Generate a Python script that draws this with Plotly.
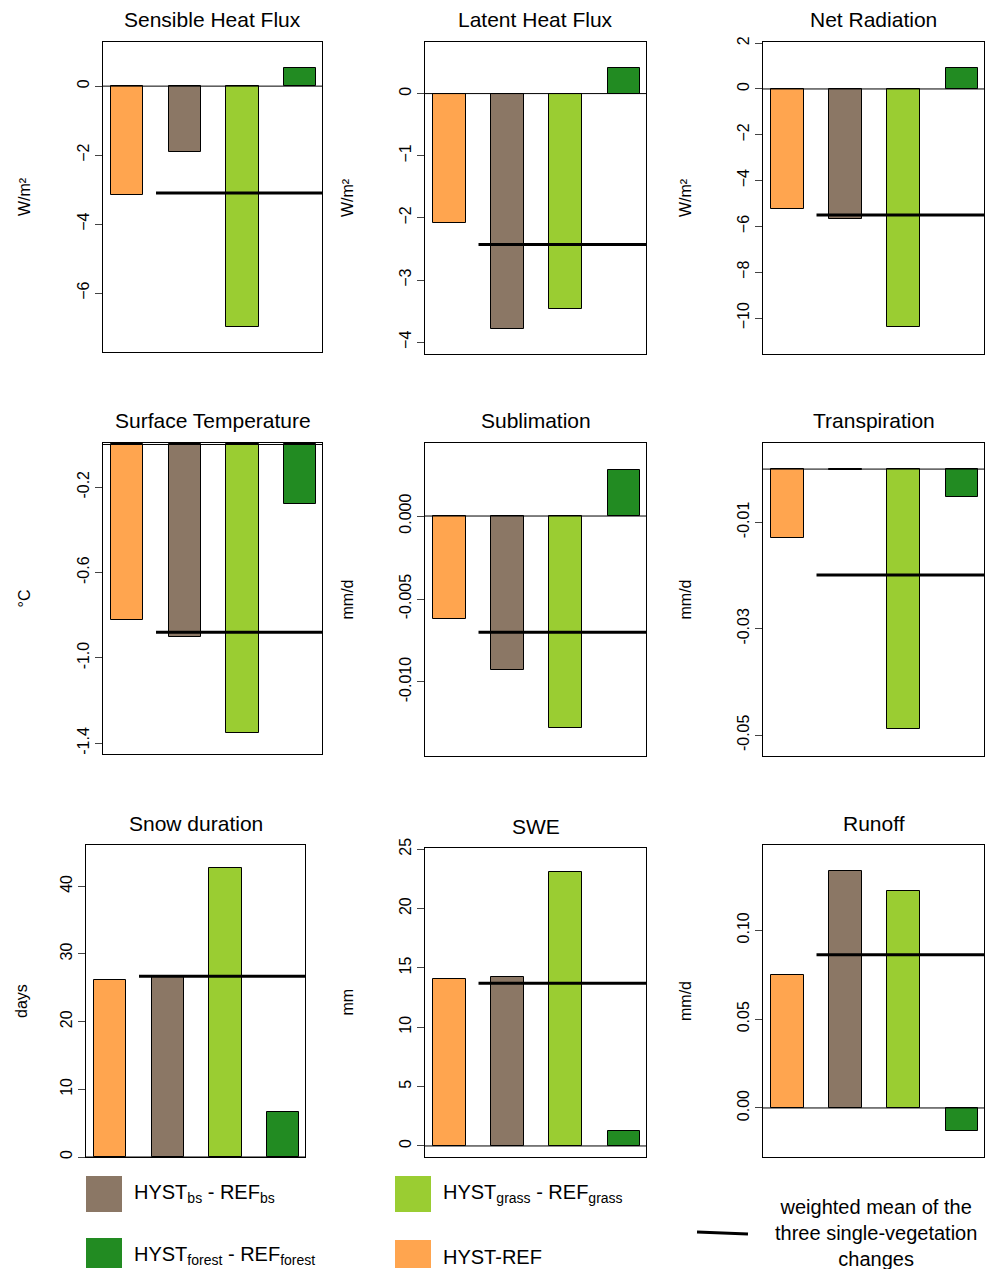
import plotly.graph_objects as go

OFF = 8  # page body margin
W, H = 995 - 2 * OFF, 1277 - 2 * OFF
titles = ["Sensible Heat Flux", "Latent Heat Flux", "Net Radiation",
          "Surface Temperature", "Sublimation", "Transpiration",
          "Snow duration", "SWE", "Runoff"]
units = ["W/m²", "W/m²", "W/m²", "°C", "mm/d", "mm/d", "days", "mm", "mm/d"]
# values: HYST-REF, bs, grass, forest
sensible = [-3.16, -1.91, -6.99, 0.52]
latent = [-2.09, -3.79, -3.47, 0.41]
netrad = [-5.24, -5.68, -10.39, 0.92]
surftemp = [-0.82, -0.90, -1.35, -0.28]
sublim = [-0.0062, -0.0093, -0.0128, 0.0028]
transp = [-0.0130, -0.0002, -0.0488, -0.0053]
snowdur = [26.1, 26.7, 42.7, 6.6]
swe = [14.1, 14.2, 23.1, 1.3]
runoff = [0.075, 0.1336, 0.1223, -0.013]
series = [sensible, latent, netrad, surftemp, sublim, transp, snowdur, swe, runoff]
means = [-3.1, -2.43, -5.5, -0.88, -0.0070, -0.0199, 26.7, 13.7, 0.0862]
ylims = [(-7.71, 1.28), (-4.19, 0.83), (-11.57, 2.05), (-1.45, 0.007),
         (-0.01446, 0.0044), (-0.0539, 0.0049), (0, 46.1), (-0.93, 25.1), (-0.0276, 0.148)]
ticks = [[0, -2, -4, -6], [0, -1, -2, -3, -4], [2, 0, -2, -4, -6, -8, -10],
         [-0.2, -0.6, -1.0, -1.4], [0.0, -0.005, -0.010], [-0.01, -0.03, -0.05],
         [0, 10, 20, 30, 40], [0, 5, 10, 15, 20, 25], [0.0, 0.05, 0.10]]
ticktext = [None, None, None, ["-0.2", "-0.6", "-1.0", "-1.4"],
            ["0.000", "-0.005", "-0.010"], ["-0.01", "-0.03", "-0.05"],
            None, None, ["0.00", "0.05", "0.10"]]
colors = ["#FFA54F", "#8B7765", "#9ACD32", "#228B22"]
# boxes in pixels (x0, x1, y0top, y1bottom)
boxes = [(103, 322, 42, 352), (425, 646, 42, 354), (763, 984, 42, 354),
         (103, 322, 443, 754), (425, 646, 443, 756), (763, 984, 443, 756),
         (86, 305, 845, 1157), (425, 646, 848, 1157), (763, 984, 845, 1157)]
unit_x = [24, 347, 685]


def px(x):
    return (x - OFF) / W


def py(y):
    return 1 - (y - OFF) / H


fig = go.Figure()
font = "Liberation Sans, Arial, sans-serif"
ann = []
for i in range(9):
    k = "" if i == 0 else str(i + 1)
    x0, x1, yt, yb = boxes[i]
    xs = [1, 2, 3, 4]
    fig.add_trace(go.Bar(x=xs, y=series[i], marker=dict(color=colors, line=dict(color="black", width=1)),
                         width=0.56, xaxis="x" + k, yaxis="y" + k, showlegend=False))
    fig.add_trace(go.Scatter(x=[0.5, 4.5], y=[0, 0], mode="lines", line=dict(color="black", width=1),
                             xaxis="x" + k, yaxis="y" + k, showlegend=False))
    fig.add_trace(go.Scatter(x=[1.5, 4.5], y=[means[i]] * 2, mode="lines", line=dict(color="black", width=3),
                             xaxis="x" + k, yaxis="y" + k, showlegend=False))
    fig.update_layout(**{
        "xaxis" + k: dict(domain=[px(x0), px(x1)], range=[0.58, 4.38], showline=True, mirror=True,
                          linecolor="black", showticklabels=False, ticks="", showgrid=False,
                          zeroline=False, anchor="y" + k, automargin=False),
        "yaxis" + k: dict(domain=[py(yb), py(yt)], range=list(ylims[i]), showline=True,
                          mirror=True, linecolor="black", ticks="outside", ticklen=7,
                          tickvals=ticks[i], ticktext=ticktext[i], tickangle=-90,
                          tickfont=dict(size=16, color="black"), showgrid=False,
                          zeroline=False, anchor="x" + k, automargin=False),
    })
    ann.append(dict(x=px((x0 + x1) / 2), y=py(yt - 22), xref="paper", yref="paper",
                    xanchor="center", yanchor="middle",
                    text=titles[i], showarrow=False, font=dict(size=21, color="black")))
    ann.append(dict(x=px(unit_x[i % 3] - (3 if i == 6 else 0)), y=py((yt + yb) / 2), xref="paper",
                    yref="paper", xanchor="center", yanchor="middle",
                    text=units[i], showarrow=False, textangle=-90, font=dict(size=16, color="black")))

shapes = []
legend = [("#8B7765", 86, 1176, "HYST<sub>bs</sub> - REF<sub>bs</sub>"),
          ("#228B22", 86, 1238, "HYST<sub>forest</sub> - REF<sub>forest</sub>"),
          ("#9ACD32", 395, 1176, "HYST<sub>grass</sub> - REF<sub>grass</sub>"),
          ("#FFA54F", 395, 1240, "HYST-REF")]
for c, lx, ly, t in legend:
    shapes.append(dict(type="rect", xref="paper", yref="paper", x0=px(lx), x1=px(lx + 36),
                       y0=py(min(ly + 36, 1268)), y1=py(ly), fillcolor=c, line=dict(width=0)))
    ann.append(dict(x=px(lx + 46), y=py(ly + 17), xref="paper", yref="paper", text=t,
                    xanchor="left", yanchor="middle", showarrow=False, font=dict(size=20, color="black")))
shapes.append(dict(type="line", xref="paper", yref="paper", x0=px(697), x1=px(748),
                   y0=py(1232), y1=py(1234), line=dict(color="black", width=3)))
ann.append(dict(x=px(876), y=py(1233), xref="paper", yref="paper", xanchor="center", yanchor="middle",
                text="weighted mean of the<br>three single-vegetation<br>changes", showarrow=False,
                align="center", font=dict(size=20, color="black")))

fig.update_layout(width=W, height=H, margin=dict(l=0, r=0, t=0, b=0, autoexpand=False),
                  plot_bgcolor="white", paper_bgcolor="white", font=dict(family=font, color="black"),
                  annotations=ann, shapes=shapes, bargap=0)
fig.write_html("out.html")
